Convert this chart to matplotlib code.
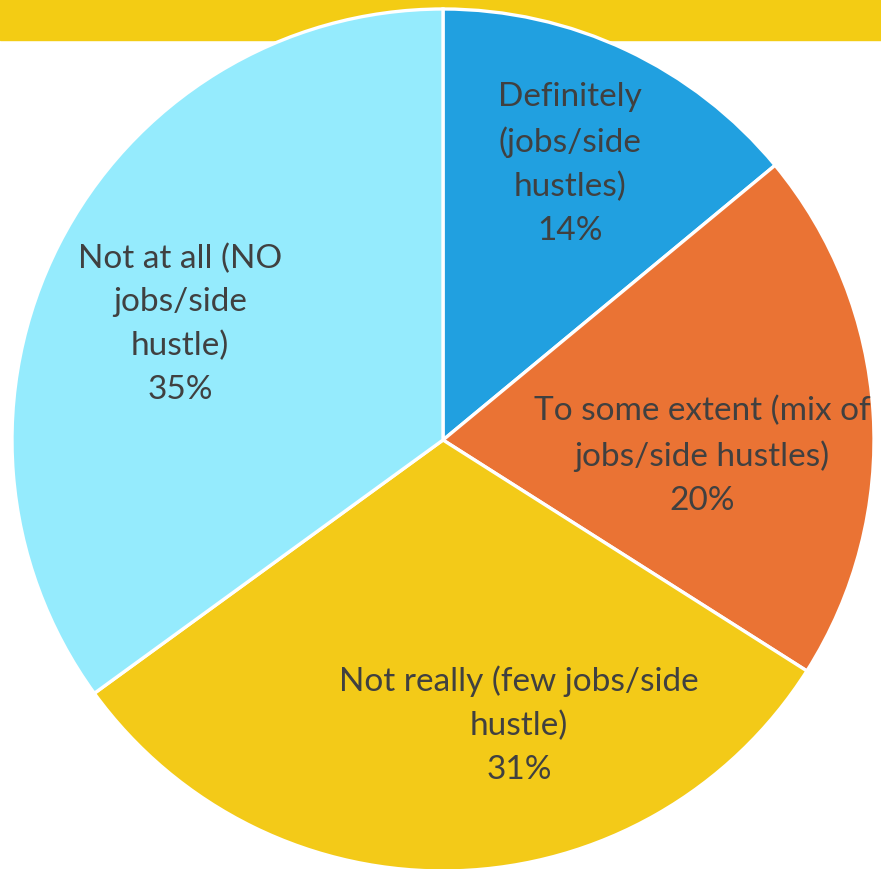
import matplotlib.pyplot as plt
from matplotlib.patches import Rectangle

# Share of respondents by answer
categories = ['Definitely\n(jobs/side\nhustles)',
              'To some extent (mix of\njobs/side hustles)',
              'Not really (few jobs/side\nhustle)',
              'Not at all (NO\njobs/side\nhustle)']
values = [14, 20, 31, 35]
colors = ['#21A0E0', '#EA7334', '#F3CA18', '#95EBFD']

W, H = 881, 870
fig = plt.figure(figsize=(W / 100, H / 100), dpi=100)
ax = fig.add_axes([0, 0, 1, 1])

# yellow header band behind the pie
ax.add_patch(Rectangle((0, H - 41), W, 41, color='#F3CC14', zorder=0))

cx, cy, r = 443, H - 441, 431
wedges, _ = ax.pie(values, colors=colors, startangle=90, counterclock=False,
                   center=(cx, cy), radius=r, frame=True,
                   wedgeprops=dict(edgecolor='white', linewidth=2.4))
for w in wedges:
    w.set_zorder(2)
ax.set_xlim(0, W)
ax.set_ylim(0, H)
ax.set_aspect('equal')
ax.axis('off')

# label centres in pixels from the top-left
label_pos = [(570, 164), (702, 456), (519, 725), (180, 324)]
for cat, val, (x, y) in zip(categories, values, label_pos):
    ax.text(x, H - y, f'{cat}\n{val}%', ha='center', va='center',
            fontsize=24, color='#404040', family='Lato',
            linespacing=1.56, zorder=3, clip_on=True)

fig.savefig('out.png', dpi=100)
